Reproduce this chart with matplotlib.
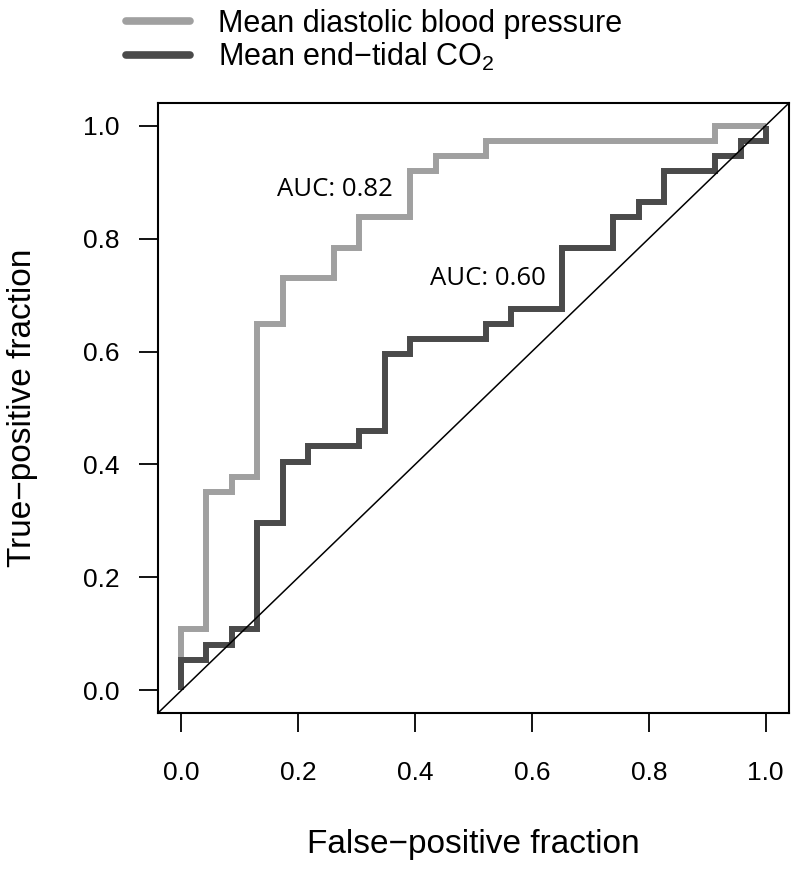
import matplotlib
matplotlib.use("Agg")
import matplotlib.pyplot as plt
from matplotlib.lines import Line2D

plt.rcParams['font.family'] = ['Liberation Sans', 'DejaVu Sans']
plt.rcParams['mathtext.fontset'] = 'custom'
plt.rcParams['mathtext.rm'] = 'Liberation Sans'
plt.rcParams['mathtext.it'] = 'Liberation Sans:italic'
plt.rcParams['mathtext.default'] = 'regular'

# ROC step points (where='pre'): false-positive fraction, true-positive fraction
fpr_dbp = [0, 0.043, 0.087, 0.130, 0.174, 0.261, 0.304, 0.391, 0.435, 0.522, 0.913, 1.0]
tpr_dbp = [0, 0.108, 0.351, 0.378, 0.649, 0.730, 0.784, 0.838, 0.919, 0.946, 0.973, 1.0]

fpr_co2 = [0, 0.043, 0.087, 0.130, 0.174, 0.217, 0.304, 0.348, 0.391, 0.522, 0.565,
           0.652, 0.739, 0.783, 0.826, 0.913, 0.957, 1.0, 1.0]
tpr_co2 = [0, 0.054, 0.081, 0.108, 0.297, 0.405, 0.432, 0.459, 0.595, 0.622, 0.649,
           0.676, 0.784, 0.838, 0.865, 0.919, 0.946, 0.973, 1.0]

labels = ["Mean diastolic blood pressure", "Mean end\u2212tidal CO$_2$"]
auc_texts = ["AUC: 0.82", "AUC: 0.60"]
ticks = [0.0, 0.2, 0.4, 0.6, 0.8, 1.0]
tick_labels = ["0.0", "0.2", "0.4", "0.6", "0.8", "1.0"]

c_light = "#a0a0a0"
c_dark = "#4a4a4a"

fig = plt.figure(figsize=(8, 8.71), dpi=100)
ax = fig.add_axes([158/800, 1-713/871, (789-158)/800, (713-103)/871])

ax.step(fpr_dbp, tpr_dbp, where='pre', color=c_light, lw=4.3,
        solid_joinstyle='miter', solid_capstyle='butt')
ax.step(fpr_co2, tpr_co2, where='pre', color=c_dark, lw=4.3,
        solid_joinstyle='miter', solid_capstyle='butt')
ax.axline((0, 0), (1, 1), color='black', lw=1.1)

ax.set_xlim(-0.04, 1.04)
ax.set_ylim(-0.04, 1.04)
ax.set_xticks(ticks)
ax.set_xticklabels(tick_labels)
ax.set_yticks(ticks)
ax.set_yticklabels(tick_labels)
ax.tick_params(direction='out', length=13.5, width=1.3, labelsize=19, color='black')
ax.tick_params(axis='x', pad=21)
ax.tick_params(axis='y', pad=14)
for s in ax.spines.values():
    s.set_linewidth(1.5)

ax.set_xlabel("False\u2212positive fraction", fontsize=24, va='center')
ax.xaxis.set_label_coords(0.5, -0.216)
ax.set_ylabel("True\u2212positive fraction", fontsize=24, va='center')
ax.yaxis.set_label_coords(-0.2155, 0.5)

ax.text(0.262, 0.887, auc_texts[0], fontsize=18.5, family=['Open Sans', 'DejaVu Sans'],
        ha='center', va='center')
ax.text(0.525, 0.729, auc_texts[1], fontsize=18.5, family=['Open Sans', 'DejaVu Sans'],
        ha='center', va='center')

h1 = Line2D([], [], color=c_light, lw=5.5, solid_capstyle='round')
h2 = Line2D([], [], color=c_dark, lw=5.5, solid_capstyle='round')
fig.legend([h1, h2], labels, loc='center left',
           bbox_to_anchor=(126/800, 1-41/871), bbox_transform=fig.transFigure,
           frameon=False, fontsize=22, handlelength=2.1, handletextpad=0.9,
           borderpad=0, borderaxespad=0, labelspacing=0.05)

fig.savefig("out.png", dpi=100)
